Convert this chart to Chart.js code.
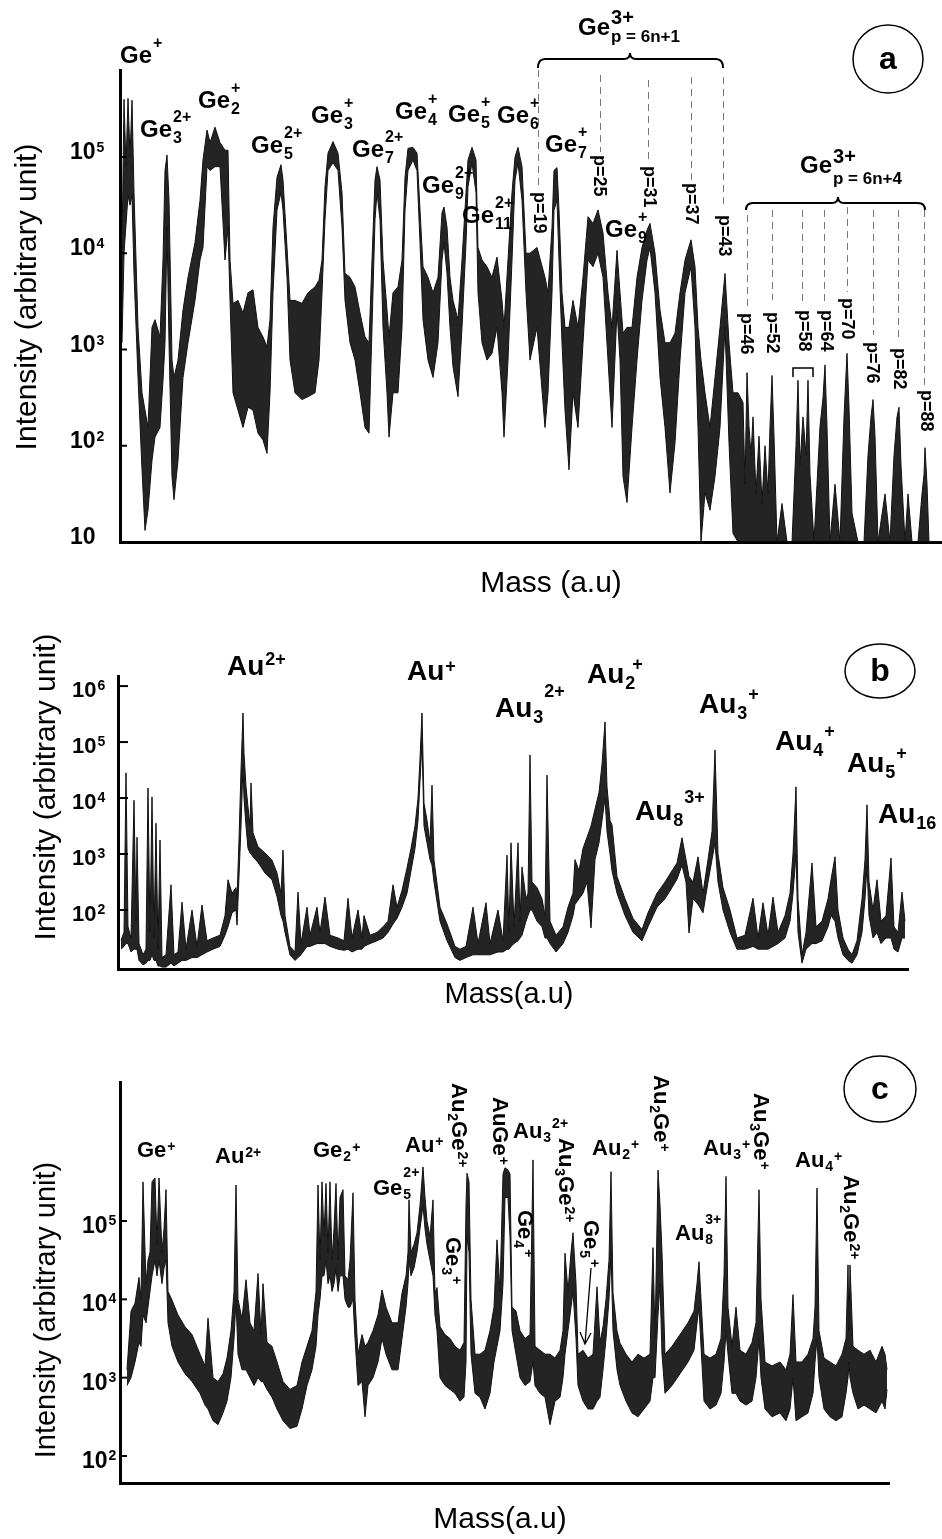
<!DOCTYPE html>
<html>
<head>
<meta charset="utf-8">
<script src="https://cdn.jsdelivr.net/npm/chart.js@4.4.1/dist/chart.umd.min.js"></script>
<style>
html, body { margin: 0; padding: 0; background: #fff; }
#wrap { position: relative; width: 942px; height: 1539px; overflow: hidden; }
canvas { position: absolute; left: 0; }
</style>
</head>
<body>
<div id="wrap">
  <canvas id="pa" width="942" height="610" style="top:0px"></canvas>
  <canvas id="pb" width="942" height="420" style="top:610px"></canvas>
  <canvas id="pc" width="942" height="509" style="top:1030px"></canvas>
</div>
<script>
// intensities are read as log10 values (upper / lower edge of the noisy trace)

// panel a : Ge clusters
const aMass = [
  2, 4, 6, 8, 10, 12, 14, 18, 22, 25,
  28, 32, 35, 40, 43, 45, 47, 49, 52, 54,
  58, 63, 68, 75, 80, 83, 87, 90, 95, 100,
  105, 108, 110, 113, 118, 123, 128, 133, 138, 143,
  147, 150, 153, 157, 161, 163, 167, 170, 175, 182,
  188, 195, 199, 202, 205, 208, 213, 218, 222, 225,
  230, 235, 240, 245, 249, 252, 255, 257, 260, 263,
  267, 269, 273, 278, 282, 285, 288, 293, 297, 300,
  303, 308, 313, 318, 322, 324, 327, 330, 333, 338,
  342, 346, 348, 352, 356, 358, 362, 367, 372, 377,
  382, 384, 388, 392, 395, 398, 402, 406, 410, 417,
  425, 428, 432, 434, 437, 439, 442, 445, 449, 453,
  458, 463, 468, 473, 478, 483, 488, 492, 497, 500,
  503, 507, 512, 517, 522, 527, 530, 535, 540, 545,
  550, 555, 560, 565, 571, 575, 578, 581, 585, 590,
  595, 600, 605, 609, 613, 618, 623, 625, 627, 629,
  631, 633, 636, 639, 642, 645, 648, 650, 652, 654,
  657, 662, 667, 672, 676, 678, 680, 683, 686, 688,
  690, 694, 697, 700, 703, 705, 707, 710, 715, 720,
  724, 727, 729, 732, 738, 744, 748, 751, 753, 755,
  758, 765, 770, 774, 777, 779, 781, 785, 788, 792,
  798, 802, 804, 805, 807, 809, 815, 822
]
const aHigh = [
  4.06, 5.60, 4.90, 5.61, 5.00, 5.59, 4.63, 3.23, 2.55, 2.37,
  2.19, 3.23, 3.31, 3.13, 3.93, 4.86, 5.02, 4.55, 2.89, 2.71,
  2.89, 3.41, 3.75, 4.11, 4.55, 4.97, 5.28, 5.15, 5.31, 5.15,
  5.07, 5.07, 3.93, 3.48, 3.51, 3.38, 3.59, 3.62, 3.23, 3.13,
  3.03, 3.31, 4.27, 4.79, 4.92, 4.76, 4.06, 3.51, 3.51, 3.48,
  3.59, 3.65, 3.72, 3.93, 4.69, 5.04, 5.16, 5.04, 4.63, 3.79,
  3.75, 3.65, 3.38, 3.13, 3.07, 3.93, 4.76, 4.90, 4.76, 3.93,
  3.41, 3.13, 3.59, 3.65, 3.93, 4.79, 5.09, 5.10, 5.04, 4.45,
  3.86, 3.75, 3.59, 3.75, 4.42, 4.48, 4.27, 3.75, 3.51, 3.31,
  3.93, 4.63, 4.97, 5.10, 4.97, 4.06, 3.93, 3.86, 3.75, 3.96,
  3.51, 3.23, 3.93, 4.63, 5.00, 5.10, 4.90, 4.00, 4.00, 4.06,
  3.75, 3.59, 4.27, 4.86, 4.89, 4.45, 3.59, 3.23, 3.23, 3.51,
  3.23, 3.75, 4.38, 4.31, 4.45, 4.21, 3.59, 3.23, 4.03, 3.59,
  3.17, 3.23, 3.23, 3.75, 4.06, 4.24, 4.31, 4.00, 3.41, 3.07,
  3.07, 3.17, 3.59, 3.93, 4.14, 3.86, 3.23, 2.89, 2.55, 2.19,
  2.71, 3.23, 3.79, 3.07, 2.55, 2.55, 2.45, 1.60, 2.76, 2.20,
  1.90, 2.30, 1.50, 2.10, 1.40, 2.00, 1.50, 2.20, 2.73, 2.10,
  1.00, 1.40, 1.00, 1.00, 2.00, 2.68, 1.80, 2.30, 1.90, 2.68,
  1.70, 1.00, 1.60, 2.20, 2.50, 2.84, 2.20, 1.00, 1.60, 1.00,
  2.30, 2.96, 2.40, 1.30, 1.00, 1.00, 1.90, 2.30, 2.48, 2.10,
  1.00, 1.50, 1.00, 1.90, 2.30, 2.40, 1.80, 1.00, 1.50, 1.00,
  1.00, 1.50, 1.70, 1.98, 1.60, 1.00, 1.00, 1.00
]
const aLow = [
  3.07, 4.00, 4.30, 4.60, 4.50, 4.60, 3.79, 2.71, 1.75, 1.12,
  1.33, 1.85, 2.09, 2.19, 2.68, 3.07, 4.27, 3.07, 1.68, 1.44,
  1.85, 2.71, 3.07, 3.51, 3.93, 4.06, 4.90, 4.86, 4.90, 4.90,
  3.93, 4.27, 3.51, 2.55, 2.37, 2.19, 2.40, 2.37, 2.13, 2.06,
  1.92, 2.55, 3.59, 4.45, 4.63, 4.45, 3.75, 2.89, 2.55, 2.48,
  2.51, 2.55, 2.89, 3.59, 4.35, 4.86, 4.94, 4.86, 4.27, 3.51,
  3.07, 2.89, 2.55, 2.19, 2.13, 3.23, 4.35, 4.63, 4.35, 3.23,
  2.55, 2.09, 2.55, 2.55, 3.23, 4.45, 4.86, 4.97, 4.86, 4.11,
  3.31, 2.89, 2.71, 3.07, 3.93, 4.11, 3.79, 3.23, 2.82, 2.51,
  3.23, 4.11, 4.69, 4.94, 4.63, 3.59, 3.07, 2.89, 2.96, 3.23,
  2.55, 2.09, 2.89, 3.93, 4.76, 4.94, 4.55, 3.59, 2.89, 3.23,
  2.19, 2.55, 3.59, 4.45, 4.55, 3.93, 3.07, 2.37, 1.75, 2.55,
  2.19, 3.07, 3.93, 3.86, 4.00, 3.75, 2.89, 2.19, 3.41, 2.89,
  1.68, 1.41, 2.19, 2.89, 3.51, 3.93, 4.06, 3.59, 2.71, 2.19,
  1.51, 2.03, 2.89, 3.59, 3.86, 3.23, 2.19, 1.00, 1.51, 1.33,
  1.68, 2.19, 3.23, 2.03, 1.09, 1.00, 1.00, 1.00, 1.00, 1.00,
  1, 1, 1, 1, 1, 1, 1, 1, 1, 1,
  1, 1, 1, 1, 1, 1, 1, 1, 1, 1,
  1, 1, 1, 1, 1, 1, 1, 1, 1, 1,
  1, 1, 1, 1, 1, 1, 1, 1, 1, 1,
  1, 1, 1, 1, 1, 1, 1, 1, 1, 1,
  1, 1, 1, 1, 1, 1, 1, 1
]
const aTicks = [1, 2, 3, 4, 5]

// panel b : Au clusters
const bMass = [
  3, 6, 8, 10, 13, 16, 18, 19, 21, 25,
  28, 30, 32, 34, 36, 38, 40, 42, 44, 48,
  53, 56, 60, 64, 68, 74, 79, 84, 89, 95,
  102, 107, 110, 114, 118, 119, 121, 123, 125, 126,
  128, 130, 132, 133, 135, 140, 147, 154, 159, 163,
  165, 167, 172, 177, 180, 183, 189, 192, 199, 202,
  207, 212, 220, 226, 230, 234, 240, 244, 246, 252,
  259, 265, 270, 275, 279, 284, 289, 293, 297, 300,
  302, 304, 306, 309, 312, 314, 316, 322, 329, 337,
  342, 348, 355, 360, 368, 372, 380, 385, 389, 391,
  393, 396, 400, 402, 404, 408, 410, 412, 414, 419,
  424, 427, 429, 432, 438, 445, 450, 455, 457, 461,
  465, 469, 473, 477, 481, 484, 487, 489, 492, 494,
  499, 507, 515, 524, 530, 539, 547, 554, 559, 564,
  568, 571, 575, 580, 585, 590, 594, 597, 600, 605,
  612, 619, 627, 635, 640, 645, 650, 655, 660, 667,
  672, 675, 678, 680, 684, 688, 694, 698, 704, 710,
  713, 717, 720, 725, 730, 734, 739, 744, 747, 749,
  751, 755, 759, 763, 768, 773, 776, 780, 784, 787
]
const bHigh = [
  1.46, 1.60, 4.45, 1.70, 1.50, 3.96, 1.80, 3.30, 1.40, 1.20,
  1.30, 4.18, 1.60, 4.02, 1.50, 3.55, 1.30, 3.25, 1.15, 1.20,
  2.45, 1.20, 1.25, 2.14, 1.30, 2.00, 1.35, 2.09, 1.45, 1.50,
  1.55, 1.90, 2.54, 2.30, 2.40, 2.20, 3.25, 4.50, 5.52, 4.80,
  4.20, 3.84, 3.50, 4.27, 3.38, 3.13, 3.02, 2.89, 2.66, 2.30,
  3.07, 1.90, 1.35, 1.25, 2.32, 1.40, 2.05, 1.55, 2.05, 1.60,
  2.23, 1.55, 1.50, 1.45, 2.21, 1.50, 2.00, 1.50, 1.90, 1.55,
  1.60, 1.70, 1.80, 2.45, 2.05, 2.35, 2.75, 3.10, 3.50, 4.00,
  4.70, 5.52, 3.91, 3.60, 3.20, 4.23, 2.89, 2.05, 1.75, 1.35,
  1.30, 1.35, 2.05, 1.40, 2.13, 1.40, 2.00, 1.45, 2.98, 1.60,
  3.20, 1.70, 3.20, 1.80, 2.77, 2.20, 2.30, 4.77, 2.50, 2.40,
  2.20, 1.90, 4.41, 1.80, 1.55, 1.70, 2.05, 2.30, 2.90, 2.70,
  3.10, 3.30, 3.50, 3.80, 4.10, 4.60, 5.36, 4.20, 3.60, 3.52,
  2.60, 2.20, 1.85, 1.65, 1.95, 2.30, 2.50, 2.70, 2.84, 3.29,
  2.90, 2.60, 2.50, 2.95, 2.30, 2.90, 3.40, 4.86, 3.00, 2.40,
  2.00, 1.50, 1.55, 2.21, 1.50, 2.13, 1.55, 2.23, 1.60, 1.90,
  2.30, 3.00, 4.20, 2.20, 1.20, 1.60, 2.84, 1.70, 1.80, 2.20,
  2.54, 2.95, 2.00, 1.50, 1.30, 1.20, 1.45, 2.20, 2.90, 3.88,
  2.50, 2.00, 2.54, 1.80, 1.90, 2.93, 1.70, 1.60, 2.32, 1.80
]
const bLow = [
  1.30, 1.35, 1.40, 1.40, 1.25, 1.30, 1.30, 1.30, 1.10, 1.02,
  1.05, 1.10, 1.10, 1.20, 1.10, 1.10, 1.00, 1.00, 0.98, 0.98,
  1.05, 1.00, 1.05, 1.10, 1.10, 1.15, 1.15, 1.20, 1.25, 1.30,
  1.35, 1.55, 1.70, 1.95, 2.00, 1.73, 2.60, 3.50, 4.60, 4.00,
  3.50, 3.10, 3.02, 3.00, 2.95, 2.85, 2.66, 2.54, 2.24, 1.90,
  1.80, 1.60, 1.20, 1.10, 1.15, 1.20, 1.35, 1.35, 1.40, 1.40,
  1.40, 1.35, 1.30, 1.28, 1.30, 1.25, 1.30, 1.30, 1.35, 1.40,
  1.45, 1.50, 1.60, 1.75, 1.85, 2.05, 2.30, 2.70, 3.10, 3.60,
  4.30, 5.00, 3.50, 3.20, 2.90, 2.80, 2.50, 1.80, 1.45, 1.15,
  1.10, 1.15, 1.20, 1.20, 1.20, 1.20, 1.25, 1.25, 1.30, 1.30,
  1.35, 1.40, 1.45, 1.50, 1.55, 1.80, 1.90, 2.00, 2.00, 1.80,
  1.70, 1.50, 1.50, 1.40, 1.25, 1.40, 1.60, 1.90, 2.10, 2.20,
  2.30, 2.50, 1.68, 2.90, 3.20, 3.60, 4.00, 3.40, 3.00, 2.70,
  2.30, 1.90, 1.60, 1.45, 1.70, 2.05, 2.20, 2.40, 2.55, 2.80,
  2.50, 1.59, 2.20, 2.10, 1.95, 2.50, 2.90, 3.20, 2.50, 2.00,
  1.60, 1.30, 1.30, 1.35, 1.30, 1.30, 1.30, 1.35, 1.40, 1.50,
  1.80, 2.30, 3.00, 1.60, 1.05, 1.30, 1.40, 1.40, 1.45, 1.70,
  1.90, 1.80, 1.50, 1.20, 1.10, 1.05, 1.20, 1.60, 2.20, 2.80,
  1.90, 1.50, 1.60, 1.40, 1.50, 1.50, 1.30, 1.25, 1.50, 1.50
]
const bTicks = [2, 3, 4, 5, 6]

// panel c : mixed Au-Ge clusters
const cMass = [
  7, 11, 15, 19, 21, 23, 26, 28, 30, 32,
  35, 37, 39, 42, 44, 46, 48, 52, 58, 65,
  72, 80, 85, 88, 93, 98, 103, 107, 111, 114,
  116, 118, 122, 126, 130, 134, 138, 141, 143, 147,
  152, 157, 163, 170, 177, 182, 187, 192, 196, 198,
  200, 202, 204, 206, 208, 210, 212, 214, 216, 218,
  220, 223, 225, 228, 230, 233, 235, 238, 242, 245,
  248, 253, 258, 262, 266, 272, 278, 282, 286, 288,
  289, 291, 294, 297, 300, 303, 305, 307, 310, 313,
  315, 317, 320, 325, 330, 335, 340, 344, 346, 347,
  349, 351, 355, 360, 365, 370, 374, 377, 380, 383,
  385, 388, 390, 392, 396, 400, 405, 410, 413, 415,
  420, 425, 430, 435, 440, 443, 445, 448, 451, 453,
  456, 458, 463, 468, 473, 477, 480, 483, 486, 489,
  491, 493, 497, 500, 506, 512, 518, 524, 530, 533,
  535, 538, 540, 542, 545, 552, 560, 568, 574, 577,
  579, 581, 584, 590, 596, 601, 604, 606, 608, 612,
  616, 620, 626, 632, 636, 639, 641, 645, 652, 660,
  666, 670, 673, 676, 682, 688, 693, 695, 697, 699,
  704, 710, 716, 722, 726, 728, 729, 730, 733, 738,
  744, 750, 756, 762, 765, 767
]
const cHigh = [
  3.10, 3.85, 3.95, 4.28, 4.00, 5.50, 4.20, 4.50, 4.60, 5.50,
  5.55, 4.70, 5.55, 4.60, 4.90, 5.40, 4.10, 3.99, 3.80, 3.65,
  3.55, 3.30, 3.15, 3.76, 3.00, 2.95, 3.05, 3.25, 3.60, 4.10,
  5.46, 4.00, 3.75, 4.25, 3.70, 3.60, 4.33, 3.55, 4.20, 3.45,
  3.40, 3.20, 2.95, 2.85, 2.90, 3.20, 3.40, 3.60, 4.10, 5.46,
  4.50, 5.50, 4.80, 5.48, 4.60, 5.50, 4.50, 4.90, 5.48, 4.50,
  5.30, 5.40, 4.30, 4.25, 4.50, 5.36, 4.00, 3.30, 3.55, 3.40,
  3.45, 3.60, 3.80, 4.12, 3.90, 3.70, 3.70, 4.08, 4.30, 4.60,
  5.27, 4.60, 4.70, 4.85, 5.20, 5.69, 5.30, 5.00, 4.80, 5.27,
  4.08, 4.15, 3.65, 3.55, 3.50, 3.40, 3.35, 3.45, 5.20, 5.61,
  5.50, 4.00, 3.30, 3.30, 3.35, 3.60, 3.90, 4.76, 4.10, 5.60,
  5.68, 5.65, 5.60, 3.90, 3.85, 3.60, 3.50, 3.55, 5.78, 3.40,
  3.35, 3.30, 3.30, 3.25, 3.35, 3.60, 4.59, 4.10, 4.60, 4.85,
  4.20, 3.30, 3.35, 3.25, 3.30, 4.16, 3.45, 3.65, 4.00, 4.50,
  5.63, 4.08, 3.60, 3.44, 3.30, 3.20, 3.30, 3.25, 3.30, 4.66,
  3.50, 5.65, 5.20, 4.60, 3.30, 3.40, 3.55, 3.70, 3.85, 4.20,
  4.48, 4.00, 3.30, 3.25, 3.30, 3.50, 4.30, 5.57, 3.90, 3.40,
  3.90, 3.35, 3.30, 3.45, 3.70, 5.40, 4.00, 3.20, 3.15, 3.20,
  3.10, 3.30, 4.06, 3.20, 3.20, 3.30, 3.50, 3.90, 5.42, 3.60,
  3.25, 3.20, 3.15, 3.30, 3.50, 4.44, 3.60, 4.44, 3.40, 3.35,
  3.30, 3.35, 3.20, 3.40, 3.30, 3.10
]
const cLow = [
  2.90, 3.00, 3.20, 3.45, 3.40, 3.80, 3.70, 3.90, 4.10, 4.30,
  4.50, 4.30, 4.50, 4.20, 4.40, 4.50, 3.70, 3.40, 3.20, 3.05,
  2.95, 2.80, 2.65, 2.60, 2.45, 2.40, 2.55, 2.70, 3.00, 3.50,
  4.00, 3.30, 3.10, 3.10, 3.00, 2.90, 3.00, 2.95, 2.95, 2.85,
  2.75, 2.60, 2.45, 2.35, 2.38, 2.60, 2.90, 3.10, 3.40, 3.80,
  4.00, 4.30, 4.30, 4.50, 4.20, 4.30, 4.10, 4.20, 4.40, 4.10,
  4.30, 4.30, 4.00, 3.90, 3.90, 4.00, 3.50, 2.90, 2.95, 2.50,
  2.90, 3.00, 3.20, 3.50, 3.30, 3.10, 3.10, 3.50, 3.90, 4.20,
  4.50, 4.30, 4.40, 4.60, 4.90, 5.20, 4.90, 4.70, 4.50, 4.30,
  3.80, 3.60, 3.00, 2.90, 2.85, 2.80, 2.70, 2.75, 3.20, 4.80,
  4.60, 3.30, 2.80, 2.75, 2.60, 2.80, 3.20, 3.40, 3.60, 4.20,
  5.30, 5.30, 4.80, 3.60, 3.30, 3.00, 2.90, 2.95, 3.20, 2.90,
  2.80, 2.75, 2.40, 2.70, 2.75, 3.00, 3.30, 3.60, 3.90, 4.10,
  3.50, 2.90, 2.70, 2.60, 2.60, 2.70, 2.75, 3.10, 3.50, 4.00,
  4.60, 3.60, 3.10, 2.90, 2.70, 2.55, 2.50, 2.60, 2.70, 3.00,
  3.00, 3.80, 4.20, 3.30, 2.80, 2.90, 3.05, 3.20, 3.35, 3.70,
  3.90, 3.40, 2.70, 2.60, 2.65, 2.80, 3.20, 3.60, 3.30, 2.80,
  2.80, 2.70, 2.65, 2.70, 3.00, 3.50, 3.00, 2.60, 2.50, 2.55,
  2.45, 2.60, 3.00, 2.45, 2.50, 2.55, 2.80, 3.20, 3.50, 3.00,
  2.60, 2.50, 2.45, 2.50, 2.80, 3.00, 3.20, 3.00, 2.80, 2.60,
  2.65, 2.60, 2.55, 2.70, 2.60, 2.85
]
const cTicks = [2, 3, 4, 5]

// annotations (page pixel positions)
const aLabels = [
  { x: 120, y: 63, seg: [['Ge'], ['+', 'p']] },
  { x: 140, y: 137, seg: [['Ge'], ['3', 'b'], ['2+', 'p']] },
  { x: 198, y: 108, seg: [['Ge'], ['2', 'b'], ['+', 'p']] },
  { x: 251, y: 153, seg: [['Ge'], ['5', 'b'], ['2+', 'p']] },
  { x: 311, y: 123, seg: [['Ge'], ['3', 'b'], ['+', 'p']] },
  { x: 352, y: 157, seg: [['Ge'], ['7', 'b'], ['2+', 'p']] },
  { x: 395, y: 119, seg: [['Ge'], ['4', 'b'], ['+', 'p']] },
  { x: 422, y: 193, seg: [['Ge'], ['9', 'b'], ['2+', 'p']] },
  { x: 448, y: 122, seg: [['Ge'], ['5', 'b'], ['+', 'p']] },
  { x: 497, y: 123, seg: [['Ge'], ['6', 'b'], ['+', 'p']] },
  { x: 462, y: 223, seg: [['Ge'], ['11', 'b'], ['2+', 'p']] },
  { x: 545, y: 152, seg: [['Ge'], ['7', 'b'], ['+', 'p']] },
  { x: 605, y: 237, seg: [['Ge'], ['9', 'b'], ['+', 'p']] },
  { x: 578, y: 35, seg: [['Ge'], ['p = 6n+1', 'b'], ['3+', 'p']], small: 17, pf: 20, bdy: 7, pdy: -11 },
  { x: 800, y: 173, seg: [['Ge'], ['p = 6n+4', 'b'], ['3+', 'p']], small: 17, pf: 20, bdy: 11, pdy: -10 }
]
const aSizes = ['p=19', 'p=25', 'p=31', 'p=37', 'p=43', 'p=46', 'p=52', 'p=58', 'p=64', 'p=70', 'p=76', 'p=82', 'p=88']
const aSizePos = [[534, 192], [594, 155], [644, 166], [686, 183], [719, 215], [741, 313], [767, 312],
  [799, 310], [821, 310], [842, 298], [867, 342], [894, 348], [921, 390]]
const aGuides = [[538, 70, 185], [600, 75, 152], [648, 80, 162], [691, 77, 180], [723, 77, 207],
  [747, 215, 307], [772, 210, 300], [802, 210, 305], [824, 210, 305], [847, 207, 292],
  [873, 210, 335], [898, 210, 342], [924, 210, 385]]

const bLabels = [
  { x: 227, y: 675, seg: [['Au'], ['2+', 'p']], pdy: -10 },
  { x: 407, y: 680, seg: [['Au'], ['+', 'p']], pdy: -8 },
  { x: 495, y: 717, seg: [['Au'], ['3', 'b'], ['2+', 'p']], pdy: -20 },
  { x: 587, y: 683, seg: [['Au'], ['2', 'b'], ['+', 'p']], pdx: -4 },
  { x: 635, y: 820, seg: [['Au'], ['8', 'b'], ['3+', 'p']], pdy: -17 },
  { x: 699, y: 713, seg: [['Au'], ['3', 'b'], ['+', 'p']] },
  { x: 775, y: 750, seg: [['Au'], ['4', 'b'], ['+', 'p']] },
  { x: 847, y: 772, seg: [['Au'], ['5', 'b'], ['+', 'p']] },
  { x: 878, y: 823, seg: [['Au'], ['16', 'b']] }
]

const cLabels = [
  { x: 137, y: 1157, seg: [['Ge'], ['+', 'p']] },
  { x: 215, y: 1163, seg: [['Au'], ['2+', 'p']] },
  { x: 313, y: 1157, seg: [['Ge'], ['2', 'b'], ['+', 'p']], pdy: -5 },
  { x: 405, y: 1152, seg: [['Au'], ['+', 'p']] },
  { x: 373, y: 1195, seg: [['Ge'], ['5', 'b'], ['2+', 'p']], stack: true, pdy: -18 },
  { x: 513, y: 1138, seg: [['Au'], ['3', 'b'], ['2+', 'p']], pdy: -10 },
  { x: 592, y: 1155, seg: [['Au'], ['2', 'b'], ['+', 'p']] },
  { x: 675, y: 1240, seg: [['Au'], ['8', 'b'], ['3+', 'p']], stack: true, pdy: -16 },
  { x: 703, y: 1155, seg: [['Au'], ['3', 'b'], ['+', 'p']] },
  { x: 795, y: 1167, seg: [['Au'], ['4', 'b'], ['+', 'p']] },
  { x: 452, y: 1083, rot: true, seg: [['Au'], ['2', 'b'], ['Ge'], ['2+', 'p']] },
  { x: 446, y: 1237, rot: true, seg: [['Ge'], ['3', 'b'], ['+', 'p']] },
  { x: 493, y: 1097, rot: true, seg: [['AuGe'], ['+', 'p']] },
  { x: 518, y: 1210, rot: true, seg: [['Ge'], ['4', 'b'], ['+', 'p']] },
  { x: 559, y: 1138, rot: true, seg: [['Au'], ['3', 'b'], ['Ge'], ['2+', 'p']] },
  { x: 584, y: 1220, rot: true, seg: [['Ge'], ['5', 'b'], ['+', 'p']] },
  { x: 654, y: 1075, rot: true, seg: [['Au'], ['2', 'b'], ['Ge'], ['+', 'p']] },
  { x: 754, y: 1093, rot: true, seg: [['Au'], ['3', 'b'], ['Ge'], ['+', 'p']] },
  { x: 844, y: 1175, rot: true, seg: [['Au'], ['2', 'b'], ['Ge'], ['2+', 'p']] }
]

const FONT = '"Liberation Sans", Arial, Helvetica, sans-serif'

function rich(ctx, lab, st) {
  const big = lab.big || st.big
  const small = lab.small || st.small
  const bdy = lab.bdy ?? st.bdy
  const pdy = lab.pdy ?? st.pdy
  const stack = lab.stack ?? st.stack
  ctx.save()
  ctx.translate(lab.x, lab.y)
  if (lab.rot) ctx.rotate(Math.PI / 2)
  ctx.fillStyle = '#000'
  ctx.textAlign = 'left'
  ctx.textBaseline = 'alphabetic'
  let cx = 0
  let subX = null
  lab.seg.forEach(([t, k]) => {
    if (!k) {
      ctx.font = `bold ${big}px ${FONT}`
      ctx.fillText(t, cx, 0)
      cx += ctx.measureText(t).width
      subX = null
    } else if (k === 'b') {
      ctx.font = `bold ${small}px ${FONT}`
      subX = cx + 1
      ctx.fillText(t, subX, bdy)
      cx = subX + ctx.measureText(t).width
    } else {
      ctx.font = `bold ${lab.pf || small}px ${FONT}`
      const sx = (stack && subX !== null ? subX : cx + 1) + (lab.pdx || 0)
      ctx.fillText(t, sx, pdy)
      cx = Math.max(cx, sx + ctx.measureText(t).width)
    }
  })
  ctx.restore()
}

function yTicks(chart, exps, st) {
  const { ctx, chartArea } = chart
  const scale = chart.scales.y
  ctx.save()
  ctx.strokeStyle = '#000'
  ctx.fillStyle = '#000'
  ctx.lineWidth = 2
  ctx.textAlign = 'left'
  ctx.textBaseline = 'alphabetic'
  exps.forEach(e => {
    const py = scale.getPixelForValue(10 ** e)
    ctx.beginPath()
    ctx.moveTo(chartArea.left, py)
    ctx.lineTo(chartArea.left + st.len, py)
    ctx.stroke()
    ctx.font = `bold ${st.big}px ${FONT}`
    ctx.fillText('10', st.x, py + st.dy)
    if (e !== 1) {
      const w = ctx.measureText('10').width
      ctx.font = `bold ${st.small}px ${FONT}`
      ctx.fillText(String(e), st.x + w + 1, py + st.dy + st.pdy)
    }
  })
  ctx.restore()
}

function titles(ctx, yText, yx, yy, ys, xText, xx, xy, xs) {
  ctx.save()
  ctx.fillStyle = '#000'
  ctx.font = `${ys}px ${FONT}`
  ctx.textAlign = 'center'
  ctx.textBaseline = 'middle'
  ctx.translate(yx, yy)
  ctx.rotate(-Math.PI / 2)
  ctx.fillText(yText, 0, 0)
  ctx.restore()
  ctx.save()
  ctx.fillStyle = '#000'
  ctx.font = `${xs}px ${FONT}`
  ctx.textAlign = 'center'
  ctx.textBaseline = 'alphabetic'
  ctx.fillText(xText, xx, xy)
  ctx.restore()
}

function badge(ctx, letter, x, y, rx, ry) {
  ctx.save()
  ctx.strokeStyle = '#000'
  ctx.lineWidth = 1.5
  ctx.beginPath()
  ctx.ellipse(x, y, rx, ry, 0, 0, Math.PI * 2)
  ctx.stroke()
  ctx.fillStyle = '#000'
  ctx.font = `bold 32px ${FONT}`
  ctx.textAlign = 'center'
  ctx.textBaseline = 'middle'
  ctx.fillText(letter, x, y + 1)
  ctx.restore()
}

function brace(ctx, x1, x2, y, tip, peak) {
  ctx.beginPath()
  ctx.moveTo(x1, y + tip)
  ctx.quadraticCurveTo(x1, y, x1 + 7, y)
  ctx.lineTo(peak - 6, y)
  ctx.quadraticCurveTo(peak, y, peak, y - 6)
  ctx.quadraticCurveTo(peak, y, peak + 6, y)
  ctx.lineTo(x2 - 7, y)
  ctx.quadraticCurveTo(x2, y, x2, y + tip)
  ctx.stroke()
}

function decorA(chart) {
  const ctx = chart.ctx
  yTicks(chart, aTicks, { x: 70, dy: 2, big: 23, small: 14, pdy: -7, len: 7 })
  titles(ctx, 'Intensity (arbitrary unit)', 28, 297, 30, 'Mass (a.u)', 551, 592, 30)
  ctx.save()
  ctx.strokeStyle = '#777'
  ctx.lineWidth = 1
  ctx.setLineDash([7, 5])
  aGuides.forEach(([x, y1, y2]) => {
    ctx.beginPath()
    ctx.moveTo(x + 0.5, y1)
    ctx.lineTo(x + 0.5, y2)
    ctx.stroke()
  })
  ctx.setLineDash([])
  ctx.strokeStyle = '#000'
  ctx.lineWidth = 2
  brace(ctx, 538, 723, 59, 9, 630)
  brace(ctx, 746, 925, 203, 7, 838)
  ctx.lineWidth = 1.5
  ctx.beginPath()
  ctx.moveTo(793, 377)
  ctx.lineTo(793, 368)
  ctx.lineTo(813, 368)
  ctx.lineTo(813, 377)
  ctx.stroke()
  ctx.restore()
  const st = { big: 24, small: 16, bdy: 6, pdy: -15, stack: true }
  aLabels.forEach(l => rich(ctx, l, st))
  aSizes.forEach((t, i) => rich(ctx, { x: aSizePos[i][0], y: aSizePos[i][1], rot: true, seg: [[t]] }, { big: 18 }))
  badge(ctx, 'a', 888, 59, 35, 34)
}

function decorB(chart) {
  const ctx = chart.ctx
  yTicks(chart, bTicks, { x: 72, dy: 11, big: 22, small: 14, pdy: -7, len: 10 })
  ctx.save()
  ctx.translate(0, -610)
  titles(ctx, 'Intensity (arbitrary unit)', 47, 787, 30, 'Mass(a.u)', 509, 1003, 29)
  const st = { big: 28, small: 18, bdy: 6, pdy: -13, stack: false }
  bLabels.forEach(l => rich(ctx, l, st))
  badge(ctx, 'b', 880, 671, 35, 27)
  ctx.restore()
}

function decorC(chart) {
  const ctx = chart.ctx
  yTicks(chart, cTicks, { x: 82, dy: 12, big: 23, small: 14, pdy: -8, len: 7 })
  ctx.save()
  ctx.translate(0, -1030)
  titles(ctx, 'Intensity (arbitrary unit)', 47, 1310, 29, 'Mass(a.u)', 500, 1528, 30)
  const st = { big: 22, small: 14, bdy: 4, pdy: -6, stack: false }
  cLabels.forEach(l => rich(ctx, l, st))
  ctx.strokeStyle = '#000'
  ctx.lineWidth = 1.3
  ctx.beginPath()
  ctx.moveTo(591, 1268)
  ctx.lineTo(585, 1344)
  ctx.moveTo(580, 1332)
  ctx.lineTo(585, 1344)
  ctx.lineTo(591, 1333)
  ctx.stroke()
  badge(ctx, 'c', 880, 1089, 36, 33)
  ctx.restore()
}

function band(mass, high, low) {
  return [
    {
      data: mass.map((m, i) => ({ x: m, y: 10 ** low[i] })),
      borderColor: '#111', borderWidth: 1, pointRadius: 0, fill: false
    },
    {
      data: mass.map((m, i) => ({ x: m, y: 10 ** high[i] })),
      borderColor: '#111', borderWidth: 1, pointRadius: 0,
      fill: '-1', backgroundColor: 'rgba(0,0,0,0.86)'
    }
  ]
}

function panel(id, mass, high, low, p) {
  return new Chart(document.getElementById(id), {
    type: 'line',
    data: { datasets: band(mass, high, low) },
    options: {
      responsive: false,
      animation: false,
      devicePixelRatio: 1,
      layout: { padding: p.pad },
      elements: { line: { tension: 0 } },
      plugins: { legend: { display: false }, tooltip: { enabled: false } },
      scales: {
        x: {
          type: 'linear', min: 0, max: p.xMax,
          ticks: { display: false },
          grid: { display: false, drawTicks: false },
          border: { display: true, color: '#000', width: 3 },
          afterFit: s => { s.height = 0 }
        },
        y: {
          type: 'logarithmic', min: 10 ** p.yMin, max: 10 ** p.yMax,
          ticks: { display: false },
          grid: { display: false, drawTicks: false },
          border: { display: true, color: '#000', width: 3 },
          afterFit: s => { s.width = 0 }
        }
      }
    },
    plugins: [{ id: 'decor', afterDraw: chart => p.decor(chart) }]
  })
}

panel('pa', aMass, aHigh, aLow, {
  pad: { top: 70, left: 120, right: 0, bottom: 68 }, xMax: 822, yMin: 1, yMax: 5.904, decor: decorA
})
panel('pb', bMass, bHigh, bLow, {
  pad: { top: 66, left: 118, right: 34, bottom: 61 }, xMax: 790, yMin: 0.946, yMax: 6.18, decor: decorB
})
panel('pc', cMass, cHigh, cLow, {
  pad: { top: 52, left: 120, right: 53, bottom: 56 }, xMax: 769, yMin: 1.655, yMax: 6.775, decor: decorC
})
</script>
</body>
</html>
